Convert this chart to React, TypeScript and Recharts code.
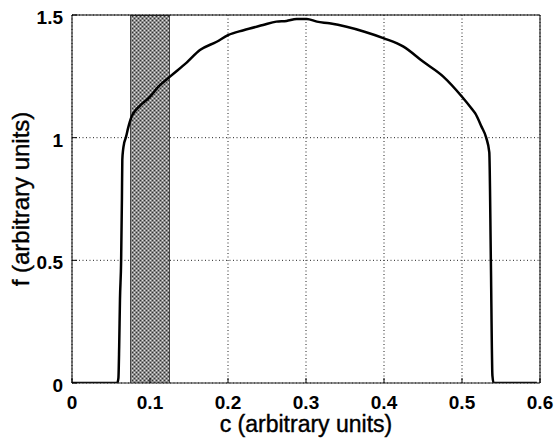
import React from 'react';
import { LineChart, Line, XAxis, YAxis, CartesianGrid, ReferenceArea } from 'recharts';

const cValues = [
  0, 0.058, 0.0595, 0.0605, 0.0615, 0.063, 0.064, 0.0645, 0.0655, 0.067, 0.069, 0.072, 0.0765, 0.0786,
  0.087, 0.0957, 0.1, 0.11, 0.1256, 0.147, 0.164, 0.1855, 0.2, 0.22, 0.245, 0.262, 0.275, 0.288, 0.301,
  0.314, 0.33, 0.352, 0.375, 0.4, 0.425, 0.45, 0.476, 0.5, 0.512, 0.517, 0.525, 0.531, 0.535, 0.537,
  0.539, 0.5405, 0.596,
];
const fValues = [
  0, 0, 0.02, 0.15, 0.34, 0.5, 0.75, 0.91, 0.95, 0.98, 1.0, 1.04, 1.086, 1.099,
  1.13, 1.154, 1.167, 1.205, 1.249, 1.306, 1.357, 1.391, 1.418, 1.438, 1.459, 1.473, 1.476, 1.484, 1.484,
  1.473, 1.466, 1.452, 1.432, 1.405, 1.371, 1.31, 1.249, 1.167, 1.12, 1.099, 1.045, 1.0, 0.94, 0.5,
  0.03, 0, 0,
];
const xTicks = [0, 0.1, 0.2, 0.3, 0.4, 0.5, 0.6];
const yTicks = [0, 0.5, 1, 1.5];
const shadedBand = [0.075, 0.125];
const xLabel = 'c (arbitrary units)';
const yLabel = 'f (arbitrary units)';

const data = cValues.map((c, i) => ({ c, f: fValues[i] }));

const FONT = '"Liberation Sans", Arial, Helvetica, sans-serif';

const XTick = (props: any) => {
  const { x, y, payload } = props;
  return (
    <text x={x} y={y} dy={14} textAnchor="middle" fontFamily={FONT} fontSize={19} fontWeight="bold" fill="#000">
      {String(payload.value)}
    </text>
  );
};

const YTick = (props: any) => {
  const { x, y, payload } = props;
  return (
    <text x={x} y={y} dy={9} textAnchor="end" fontFamily={FONT} fontSize={19} fontWeight="bold" fill="#000">
      {String(payload.value)}
    </text>
  );
};

const XLabel = (props: any) => {
  const vb = props.viewBox;
  const cx = vb.x + vb.width / 2;
  return (
    <text x={cx} y={432} textAnchor="middle" fontFamily={FONT} fontSize={23} fill="#000" stroke="#000" strokeWidth={0.4}>
      {xLabel}
    </text>
  );
};

const YLabel = (props: any) => {
  const vb = props.viewBox;
  const cy = vb.y + vb.height / 2;
  const cx = 20;
  return (
    <text x={cx} y={cy} transform={`rotate(-90, ${cx}, ${cy})`} textAnchor="middle" dominantBaseline="central"
      fontFamily={FONT} fontSize={24} fill="#000" stroke="#000" strokeWidth={0.4}>
      {yLabel}
    </text>
  );
};

export default function App() {
  return (
    <div style={{ position: 'absolute', left: 0, top: 0, width: 555, height: 438, background: '#fff' }}>
      <LineChart width={555} height={438} data={data} margin={{ top: 14, right: 14, left: 0, bottom: 0 }}>
        <defs>
          <pattern id="stipple" patternUnits="userSpaceOnUse" width={4} height={4}>
            <rect x={0} y={0} width={4} height={4} fill="#8c8c8c" />
            <rect x={0} y={0} width={1} height={1} fill="#333" />
            <rect x={2} y={2} width={1} height={1} fill="#333" />
            <rect x={2} y={0} width={1} height={1} fill="#e0e0e0" />
            <rect x={0} y={2} width={1} height={1} fill="#e0e0e0" />
          </pattern>
        </defs>
        <CartesianGrid xAxisId="bottom" yAxisId="left" stroke="#222" strokeDasharray="1 2.5" vertical horizontal />
        <XAxis xAxisId="bottom" dataKey="c" type="number" domain={[0, 0.6]} ticks={xTicks} allowDataOverflow
          orientation="bottom" height={55} tickSize={-5} tickMargin={17} tick={<XTick />}
          axisLine={{ stroke: '#222', strokeWidth: 1 }} tickLine={{ stroke: '#000' }} label={<XLabel />} interval={0} />
        <XAxis xAxisId="top" dataKey="c" type="number" domain={[0, 0.6]} ticks={xTicks} allowDataOverflow
          orientation="top" height={1} tickSize={-5} tick={false}
          axisLine={{ stroke: '#000', strokeWidth: 1 }} tickLine={{ stroke: '#000' }} interval={0} />
        <YAxis yAxisId="left" type="number" domain={[0, 1.5]} ticks={yTicks} allowDataOverflow
          orientation="left" width={72} tickSize={-5} tickMargin={14} tick={<YTick />}
          axisLine={{ stroke: '#000', strokeWidth: 1 }} tickLine={{ stroke: '#000' }} label={<YLabel />} interval={0} />
        <YAxis yAxisId="right" type="number" domain={[0, 1.5]} ticks={yTicks} allowDataOverflow
          orientation="right" width={1} tickSize={-5} tick={false}
          axisLine={{ stroke: '#000', strokeWidth: 1 }} tickLine={{ stroke: '#000' }} interval={0} />
        <ReferenceArea xAxisId="bottom" yAxisId="left" x1={shadedBand[0]} x2={shadedBand[1]} y1={0} y2={1.5}
          fill="url(#stipple)" fillOpacity={1} stroke="#444" strokeWidth={1} ifOverflow="hidden" shapeRendering="crispEdges" />
        <Line xAxisId="bottom" yAxisId="left" type="monotoneX" dataKey="f" stroke="#000" strokeWidth={2.5}
          dot={false} isAnimationActive={false} strokeLinejoin="round" />
      </LineChart>
    </div>
  );
}
